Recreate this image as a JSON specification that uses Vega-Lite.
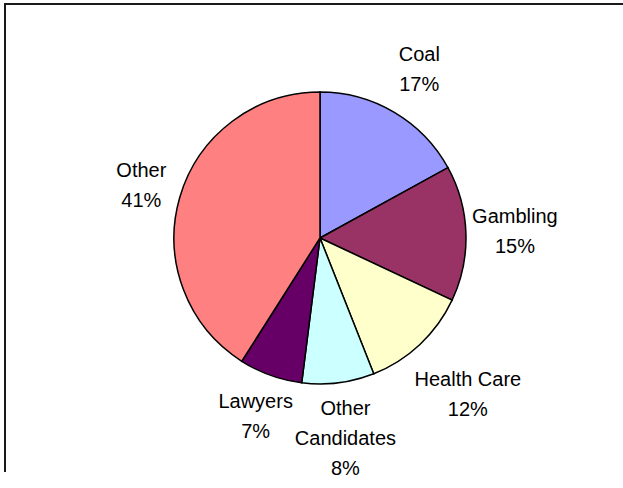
{
  "$schema": "https://vega.github.io/schema/vega-lite/v6.json",
  "width": 630,
  "height": 468,
  "padding": {"left": 5, "top": 4, "right": -12, "bottom": 16},
  "background": "white",
  "view": {"stroke": "#1a1a1a", "strokeWidth": 2, "strokeDash": [630, 1098, 468]},
  "data": {
    "values": [
      {"category": "Coal", "share": 17, "rank": 1, "label": "Coal\n17%"},
      {"category": "Gambling", "share": 15, "rank": 2, "label": "Gambling\n15%"},
      {"category": "Health Care", "share": 12, "rank": 3, "label": "Health Care\n12%"},
      {"category": "Other Candidates", "share": 8, "rank": 4, "label": "Other\nCandidates\n8%"},
      {"category": "Lawyers", "share": 7, "rank": 5, "label": "Lawyers\n7%"},
      {"category": "Other", "share": 41, "rank": 6, "label": "Other\n41%"}
    ]
  },
  "encoding": {
    "theta": {"field": "share", "type": "quantitative", "stack": true},
    "order": {"field": "rank", "type": "quantitative"}
  },
  "layer": [
    {
      "mark": {
        "type": "arc",
        "outerRadius": 146,
        "stroke": "#000000",
        "strokeWidth": 1.5
      },
      "encoding": {
        "color": {
          "field": "category",
          "type": "nominal",
          "scale": {
            "domain": ["Coal", "Gambling", "Health Care", "Other Candidates", "Lawyers", "Other"],
            "range": ["#9999FF", "#993366", "#FFFFCC", "#CCFFFF", "#660066", "#FF8080"]
          },
          "legend": null
        }
      }
    },
    {
      "mark": {
        "type": "text",
        "radius": {"expr": "datum.category === 'Health Care' ? 216 : datum.category === 'Other Candidates' ? 203 : datum.category === 'Lawyers' ? 190 : datum.category === 'Other' ? 186 : 195"},
        "dy": {"expr": "-15 * (length(split(datum.label, '\\n')) - 1)"},
        "font": "Liberation Sans",
        "fontSize": 20,
        "lineHeight": 30,
        "lineBreak": "\n",
        "fill": "#000000",
        "align": "center",
        "baseline": "middle"
      },
      "encoding": {
        "text": {"field": "label", "type": "nominal"}
      }
    }
  ]
}
